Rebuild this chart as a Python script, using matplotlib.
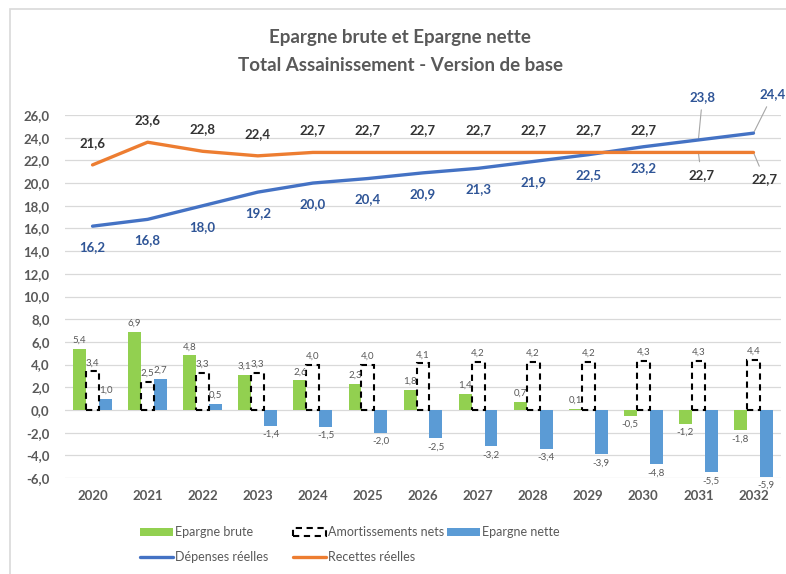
import matplotlib
matplotlib.use("Agg")
import matplotlib.pyplot as plt
import matplotlib.patches as mpatches
import numpy as np

plt.rcParams['font.family'] = ['Lato', 'DejaVu Sans']

years = ["2020", "2021", "2022", "2023", "2024", "2025", "2026", "2027", "2028", "2029", "2030", "2031", "2032"]
depenses = [16.2, 16.8, 18.0, 19.2, 20.0, 20.4, 20.9, 21.3, 21.9, 22.5, 23.2, 23.8, 24.4]
recettes = [21.6, 23.6, 22.8, 22.4, 22.7, 22.7, 22.7, 22.7, 22.7, 22.7, 22.7, 22.7, 22.7]
epargne_brute = [5.4, 6.9, 4.8, 3.1, 2.6, 2.3, 1.8, 1.4, 0.7, 0.1, -0.5, -1.2, -1.8]
amortissements = [3.4, 2.5, 3.3, 3.3, 4.0, 4.0, 4.1, 4.2, 4.2, 4.2, 4.3, 4.3, 4.4]
epargne_nette = [1.0, 2.7, 0.5, -1.4, -1.5, -2.0, -2.5, -3.2, -3.4, -3.9, -4.8, -5.5, -5.9]
yticks = [-6, -4, -2, 0, 2, 4, 6, 8, 10, 12, 14, 16, 18, 20, 22, 24, 26]

GREEN = '#92D050'
BLUE_BAR = '#5B9BD5'
BLUE_LINE = '#4472C4'
ORANGE = '#ED7D31'
GRAY = '#595959'

def fmt(v):
    return f"{v:.1f}".replace('.', ',')

W, H = 786, 574
fig = plt.figure(figsize=(W / 100, H / 100), dpi=100)
ax = fig.add_axes([65 / W, 1 - 478 / H, (781 - 65) / W, (478 - 115) / H])

x = np.arange(len(years))
bw = 0.235

b1 = ax.bar(x - bw, epargne_brute, bw, color=GREEN, label='Epargne brute', zorder=2)
b2 = ax.bar(x, amortissements, bw, facecolor='none', edgecolor='black', linestyle=(0, (3, 2.2)),
            linewidth=1.5, label='Amortissements nets', zorder=3)
b3 = ax.bar(x + bw, epargne_nette, bw, color=BLUE_BAR, label='Epargne nette', zorder=2)

for bars, vals in ((b1, epargne_brute), (b2, amortissements), (b3, epargne_nette)):
    for rect, v in zip(bars, vals):
        cx = rect.get_x() + rect.get_width() / 2
        if v >= 0:
            ax.annotate(fmt(v), (cx, v), xytext=(0, 3), textcoords='offset points',
                        ha='center', va='bottom', fontsize=7, color=GRAY, zorder=5)
        else:
            ax.annotate(fmt(v), (cx, v), xytext=(0, -3), textcoords='offset points',
                        ha='center', va='top', fontsize=7, color=GRAY, zorder=5)

l1, = ax.plot(x, depenses, color=BLUE_LINE, lw=2.4, solid_capstyle='round', label='Dépenses réelles', zorder=4)
l2, = ax.plot(x, recettes, color=ORANGE, lw=2.4, solid_capstyle='round', label='Recettes réelles', zorder=4)

n = len(years)
for i in range(n):
    if i < n - 2:
        ax.annotate(fmt(recettes[i]), (x[i], recettes[i]), xytext=(0, 16), textcoords='offset points',
                    ha='center', va='center', fontsize=9.5, fontweight='bold', color='#333333')
        ax.annotate(fmt(depenses[i]), (x[i], depenses[i]), xytext=(0, -15), textcoords='offset points',
                    ha='center', va='center', fontsize=9.5, fontweight='bold', color='#2F5597')

# offset labels with leader lines for the last two years
lead = dict(arrowstyle='-', color='#A6A6A6', lw=0.8, shrinkA=3, shrinkB=0)
offsets_dep = [(3, 31), (14, 28)]
offsets_rec = [(2, -16), (8, -19)]
for k, i in enumerate(range(n - 2, n)):
    ax.annotate(fmt(depenses[i]), (x[i], depenses[i]), xytext=offsets_dep[k], textcoords='offset points',
                ha='center', va='center', fontsize=9.5, fontweight='bold', color='#2F5597',
                arrowprops=lead)
    ax.annotate(fmt(recettes[i]), (x[i], recettes[i]), xytext=offsets_rec[k], textcoords='offset points',
                ha='center', va='center', fontsize=9.5, fontweight='bold', color='#333333',
                arrowprops=lead)

ax.set_xlim(-0.5, n - 0.5)
ax.set_ylim(-6, 26)
ax.set_yticks(yticks)
ax.set_yticklabels([fmt(v) for v in yticks])
ax.set_xticks(x)
ax.set_xticklabels(years)
ax.tick_params(axis='y', length=0, pad=11, labelsize=9.5, labelcolor=GRAY)
ax.tick_params(axis='x', length=0, pad=9, labelsize=9.5, labelcolor=GRAY)
for lab in ax.get_xticklabels() + ax.get_yticklabels():
    lab.set_fontweight('bold')
ax.grid(axis='y', color='#D9D9D9', lw=0.9, zorder=0)
ax.set_axisbelow(True)
for s in ax.spines.values():
    s.set_visible(False)

fig.text(400 / W, 1 - 38 / H, 'Epargne brute et Epargne nette', ha='center', va='center',
         fontsize=13.5, fontweight='bold', color=GRAY)
fig.text(400 / W, 1 - 66 / H, 'Total Assainissement - Version de base', ha='center', va='center',
         fontsize=13.5, fontweight='bold', color=GRAY)

# legend entries
entries = [
    (b1, 'Epargne brute', 140, 532),
    (b2, 'Amortissements nets', 293, 532),
    (b3, 'Epargne nette', 447, 532),
    (l1, 'Dépenses réelles', 140, 557),
    (l2, 'Recettes réelles', 293, 557),
]
for h, lab, px, py in entries:
    fig.legend([h], [lab], loc='center left', bbox_to_anchor=(px / W, 1 - py / H),
               frameon=False, borderpad=0, borderaxespad=0, handlelength=2.6,
               handleheight=0.6, handletextpad=0.2, fontsize=9, labelcolor=GRAY)

fig.add_artist(mpatches.Rectangle((10 / W, -0.01), 1.0, 1 - 9 / H + 0.01, transform=fig.transFigure,
                                  fill=False, edgecolor='#D9D9D9', lw=1.2))

fig.savefig('out.png', dpi=100)
